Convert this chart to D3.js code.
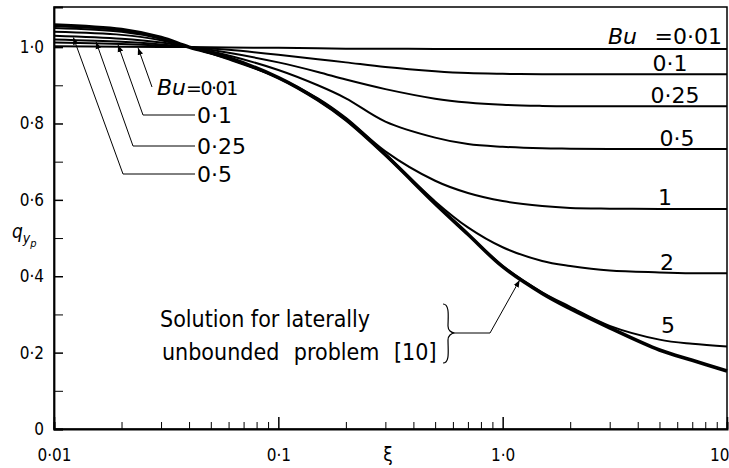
<!DOCTYPE html>
<html>
<head>
<meta charset="utf-8">
<script src="https://cdn.jsdelivr.net/npm/d3@7"></script>
<style>
body{margin:0;background:#fff;}
svg text{font-family:"DejaVu Sans Condensed","Liberation Sans Narrow","DejaVu Sans",sans-serif;fill:#000;}
svg text.lab{font-family:"DejaVu Sans",sans-serif;}
</style>
</head>
<body>
<svg id="chart" width="729" height="468"></svg>
<script>
// xi grid shared by every curve
var xi = [0.01,0.02,0.03,0.04,0.06,0.1,0.15,0.2,0.3,0.5,0.7,1,1.5,2,3,5,7,10]

var unbounded = [1.058,1.046,1.025,1.0,0.972,0.92,0.862,0.81,0.718,0.59,0.51,0.425,0.355,0.315,0.265,0.207,0.18,0.152]
var bu5   = [1.055,1.044,1.024,1.0,0.971,0.919,0.861,0.809,0.717,0.59,0.51,0.427,0.358,0.32,0.27,0.234,0.223,0.216]
var bu2   = [1.05,1.04,1.022,1.0,0.97,0.92,0.863,0.812,0.72,0.596,0.528,0.476,0.44,0.427,0.415,0.41,0.408,0.408]
var bu1   = [1.04,1.032,1.018,1.0,0.968,0.92,0.866,0.815,0.727,0.65,0.618,0.597,0.584,0.579,0.577,0.576,0.576,0.576]
var bu05  = [1.03,1.022,1.012,1.0,0.978,0.94,0.9,0.866,0.805,0.763,0.746,0.739,0.735,0.734,0.733,0.733,0.733,0.733]
var bu025 = [1.02,1.014,1.007,1.0,0.985,0.96,0.935,0.915,0.89,0.865,0.855,0.849,0.846,0.845,0.845,0.845,0.845,0.845]
var bu01  = [1.012,1.008,1.004,1.0,0.993,0.98,0.968,0.96,0.948,0.937,0.932,0.93,0.929,0.929,0.929,0.929,0.929,0.929]
var bu001 = [1.002,1.001,1.0,1.0,0.999,0.998,0.997,0.996,0.996,0.995,0.995,0.995,0.995,0.995,0.995,0.995,0.995,0.995]

var buSeries = [bu001,bu01,bu025,bu05,bu1,bu2,bu5]
var buRightLabels = ["=0·01","0·1","0·25","0·5","1","2","5"]

var xMajor = [0.01,0.1,1,10]
var xMajorLabels = ["0·01","0·1","1·0","10"]
var yMajor = [0,0.2,0.4,0.6,0.8,1.0]
var yMajorLabels = ["0","0·2","0·4","0·6","0·8","1·0"]
var yMinor = [0.1,0.3,0.5,0.7,0.9]

// left-hand leader labels: xi where the arrow touches the curve
var leftLabels = ["=0·01","0·1","0·25","0·5"]
var leftTouch = [0.0237,0.0193,0.0154,0.0122]

var svg = d3.select("#chart")
var margins = {left:54,right:2,top:7,bottom:39}
var width = 729-margins.left-margins.right
var height = 468-margins.top-margins.bottom

var xScale = d3.scaleLog().domain([0.01,10]).range([margins.left,margins.left+width])
var yScale = d3.scaleLinear().domain([0,1.105]).range([margins.top+height,margins.top])

var xMinor = []
d3.range(-2,1).forEach(function(e){
    for(var k=2;k<=9;k++){ xMinor.push(k*Math.pow(10,e)) }
})

// frame
svg.append("rect")
.attr("x",margins.left).attr("y",margins.top)
.attr("width",width).attr("height",height)
.attr("fill","none").attr("stroke","#000").attr("stroke-width",1.5)

var bottom = margins.top+height

svg.append("g")
.attr("transform","translate(0,"+bottom+")")
.call(d3.axisBottom(xScale).tickValues(xMinor).tickSize(-7).tickFormat(""))
.call(function(g){g.select(".domain").attr("stroke-width",2)})

svg.append("g")
.attr("transform","translate(0,"+bottom+")")
.call(d3.axisBottom(xScale).tickValues(xMajor).tickSize(-12).tickPadding(20)
    .tickFormat(function(d,i){return xMajorLabels[i]}))
.call(function(g){
    g.select(".domain").remove()
    g.selectAll("line").attr("stroke-width",1.5)
    g.selectAll("text").attr("font-size",17)
    g.selectAll("text").filter(function(d){return d==10}).attr("text-anchor","end").attr("dx",2)
})

svg.append("g")
.attr("transform","translate("+margins.left+",0)")
.call(d3.axisLeft(yScale).tickValues(yMinor).tickSize(-9).tickFormat(""))
.call(function(g){g.select(".domain").attr("stroke-width",1.8)})

svg.append("g")
.attr("transform","translate("+margins.left+",0)")
.call(d3.axisLeft(yScale).tickValues(yMajor).tickSize(-9).tickPadding(10)
    .tickFormat(function(d,i){return yMajorLabels[i]}))
.call(function(g){
    g.select(".domain").remove()
    g.selectAll("line").attr("stroke-width",1.5)
    g.selectAll("text").attr("font-size",17)
})

// axis titles
svg.append("text").attr("x",388).attr("y",461).attr("font-size",19)
.attr("text-anchor","middle").text("ξ")

var qlab = svg.append("text").attr("x",12).attr("y",238).attr("font-size",19).attr("font-style","italic")
qlab.append("tspan").text("q")
qlab.append("tspan").attr("font-size",14).attr("dy",5).text("y")
qlab.append("tspan").attr("font-size",11).attr("dy",4).text("p")

// curves
var line = d3.line()
.x(function(d){return xScale(d[0])})
.y(function(d){return yScale(d[1])})
.curve(d3.curveCatmullRom.alpha(0.5))

buSeries.forEach(function(s){
    svg.append("path")
    .datum(d3.zip(xi,s))
    .attr("d",line)
    .attr("fill","none").attr("stroke","#000").attr("stroke-width",2)
})

svg.append("path")
.datum(d3.zip(xi,unbounded))
.attr("d",line)
.attr("fill","none").attr("stroke","#000").attr("stroke-width",3.6)

// right labels
var rightPos = [[722,44],[670,71],[675,103],[677,146],[665,205],[667,270],[668,333]]
buRightLabels.forEach(function(t,i){
    svg.append("text").attr("class","lab")
    .attr("x",rightPos[i][0]).attr("y",rightPos[i][1])
    .attr("text-anchor",i==0?"end":"middle")
    .attr("font-size",22)
    .text(t)
})
svg.append("text").attr("class","lab").attr("x",608).attr("y",44).attr("font-size",22)
.attr("font-style","italic").text("Bu")

// arrow marker
svg.append("defs").append("marker")
.attr("id","arr").attr("viewBox","0 0 10 10").attr("refX",10).attr("refY",5)
.attr("markerWidth",7).attr("markerHeight",7).attr("orient","auto")
.append("path").attr("d","M0,1 L10,5 L0,9 Z").attr("fill","#000")

var interp = function(series,x){
    var lx = xi.map(Math.log)
    return d3.scaleLinear().domain(lx).range(series)(Math.log(x))
}

// left leaders
var elbows = [[152,87],[143,115],[133,146],[123,174]]
var leftSeries = [bu001,bu01,bu025,bu05]
leftLabels.forEach(function(t,i){
    var tip = [xScale(leftTouch[i]),yScale(interp(leftSeries[i],leftTouch[i]))+1]
    var pts = i==0 ? [elbows[i],tip] : [[195,elbows[i][1]],elbows[i],tip]
    svg.append("path")
    .attr("d",d3.line()(pts))
    .attr("fill","none").attr("stroke","#000").attr("stroke-width",1)
    .attr("marker-end","url(#arr)")
    svg.append("text").attr("class","lab")
    .attr("x",i==0?186:197).attr("y",elbows[i][1]+8)
    .attr("font-size",i==0?19:22)
    .attr("letter-spacing",i==0?-1.5:0)
    .text(t)
})
svg.append("text").attr("class","lab").attr("x",157).attr("y",95).attr("font-size",22)
.attr("font-style","italic").text("Bu")

// unbounded solution note
svg.append("text").attr("x",160).attr("y",327).attr("font-size",23).text("Solution for laterally")
svg.append("text").attr("x",162).attr("y",360).attr("font-size",23).attr("word-spacing",8).text("unbounded problem [10]")
svg.append("path")
.attr("d","M443,304 C450,304 448,318 448,326 C448,330 451,333 455,333 C451,333 448,336 448,340 C448,350 450,363 443,363")
.attr("fill","none").attr("stroke","#000").attr("stroke-width",1.2)
var noteTip = 1.19
svg.append("path")
.attr("d",d3.line()([[455,333],[490,333],[xScale(noteTip),yScale(interp(unbounded,noteTip))+2]]))
.attr("fill","none").attr("stroke","#000").attr("stroke-width",1)
.attr("marker-end","url(#arr)")
</script>
</body>
</html>
